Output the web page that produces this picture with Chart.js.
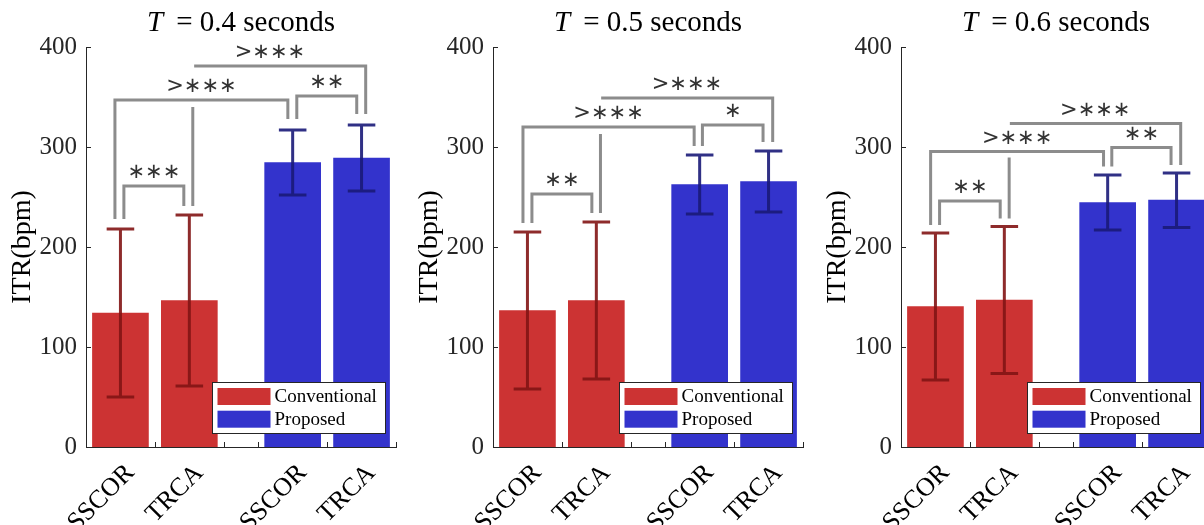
<!DOCTYPE html>
<html>
<head>
<meta charset="utf-8">
<script src="https://cdn.jsdelivr.net/npm/chart.js@4.4.1/dist/chart.umd.min.js"></script>
<style>
    html, body { margin: 0; padding: 0; background: #fff; }
    body { width: 1204px; height: 525px; overflow: hidden; position: relative; }
    .panel { position: absolute; top: 0; width: 408px; height: 525px; }
</style>
</head>
<body>
<div class="panel" style="left:0px"><canvas id="chart04" width="408" height="525"></canvas></div>
<div class="panel" style="left:407px"><canvas id="chart05" width="408" height="525"></canvas></div>
<div class="panel" style="left:815px"><canvas id="chart06" width="408" height="525"></canvas></div>
<script>
// Categories and bar positions on the x axis
const methods = ['SSCOR', 'TRCA'];
const convPositions = [1, 2];
const propPositions = [3.5, 4.5];
const xTickMarks = [1.5, 2.5, 3, 4, 5];
const yTickValues = [0, 100, 200, 300, 400];
const windowLengths = ['0.4', '0.5', '0.6'];

// ITR mean / std (bpm), [SSCOR, TRCA]
const convMean04 = [134, 146.5];
const convStd04 = [84, 85.5];
const propMean04 = [284.5, 289];
const propStd04 = [32.5, 33];

const convMean05 = [136.5, 146.5];
const convStd05 = [78.5, 78.5];
const propMean05 = [262.5, 265.5];
const propStd05 = [29.5, 30.5];

const convMean06 = [140.5, 147];
const convStd06 = [73.5, 73.5];
const propMean06 = [244.5, 246.8];
const propStd06 = [27.5, 27.3];

// Significance brackets: [x1, x2, yTop, yLeftEnd, yRightEnd, label, labelX]
const brackets04 = [
    [1.05, 1.92, 261, 228, 241, '\u2217\u2217\u2217'],
    [0.92, 3.43, 347, 228, 328, '>\u2217\u2217\u2217'],
    [2.07, 4.56, 381, null, 333, '>\u2217\u2217\u2217', 3.17],
    [3.56, 4.43, 351, 328, 333, '\u2217\u2217']
];
const stems04 = [[2.05, 241, 340]];

const brackets05 = [
    [1.065, 1.935, 253, 224, 234, '\u2217\u2217'],
    [0.935, 3.42, 320, 224, 301, '>\u2217\u2217\u2217'],
    [2.07, 4.56, 349, null, 305, '>\u2217\u2217\u2217'],
    [3.54, 4.42, 322, 301, 305, '\u2217']
];
const stems05 = [[2.06, 234, 313]];

const brackets06 = [
    [1.06, 1.94, 246, 222, 228.5, '\u2217\u2217'],
    [0.93, 3.44, 295.5, 222, 280.5, '>\u2217\u2217\u2217'],
    [2.08, 4.56, 323.5, null, 282, '>\u2217\u2217\u2217'],
    [3.56, 4.42, 299.5, 280.5, 282, '\u2217\u2217']
];
const stems06 = [[2.07, 228.5, 289.5]];

const SERIF = '"Liberation Serif", "Times New Roman", serif';
const AXIS_COLOR = '#262626';

// Error bars, brackets, inward ticks, legend box and title
const annotatePlugin = {
    id: 'annotate',
    afterDatasetsDraw(chart, args, opts) {
        const { ctx, chartArea } = chart;
        const x = chart.scales.x, y = chart.scales.y;

        // error bars
        chart.data.datasets.forEach((ds, di) => {
            const meta = chart.getDatasetMeta(di);
            ctx.save();
            ctx.strokeStyle = ds.errorColor;
            ctx.lineWidth = 3;
            meta.data.forEach((bar, i) => {
                const pt = ds.data[i];
                const s = ds.errors[i];
                const px = x.getPixelForValue(pt.x);
                const half = x.getPixelForValue(pt.x + 0.2) - px;
                const yt = y.getPixelForValue(pt.y + s);
                const yb = y.getPixelForValue(pt.y - s);
                ctx.beginPath();
                ctx.moveTo(px, yt); ctx.lineTo(px, yb);
                ctx.moveTo(px - half, yt); ctx.lineTo(px + half, yt);
                ctx.moveTo(px - half, yb); ctx.lineTo(px + half, yb);
                ctx.stroke();
            });
            ctx.restore();
        });

        // significance brackets
        ctx.save();
        ctx.strokeStyle = '#8c8c8c';
        ctx.lineWidth = 3;
        ctx.lineJoin = 'miter';
        opts.brackets.forEach(([x1, x2, yy, yl, yr]) => {
            const X1 = x.getPixelForValue(x1), X2 = x.getPixelForValue(x2);
            const Y = y.getPixelForValue(yy);
            ctx.beginPath();
            if (yl !== null) {
                ctx.moveTo(X1, y.getPixelForValue(yl));
                ctx.lineTo(X1, Y);
            } else {
                ctx.moveTo(X1, Y);
            }
            ctx.lineTo(X2, Y);
            ctx.lineTo(X2, y.getPixelForValue(yr));
            ctx.stroke();
        });
        opts.stems.forEach(([sx, y0, y1]) => {
            const X = x.getPixelForValue(sx);
            ctx.beginPath();
            ctx.moveTo(X, y.getPixelForValue(y0));
            ctx.lineTo(X, y.getPixelForValue(y1));
            ctx.stroke();
        });
        ctx.fillStyle = '#333333';
        ctx.font = '21px "DejaVu Sans", sans-serif';
        ctx.textAlign = 'center';
        ctx.textBaseline = 'middle';
        opts.brackets.forEach(([x1, x2, yy, yl, yr, label, lx]) => {
            const cx = x.getPixelForValue(lx !== undefined ? lx : (x1 + x2) / 2);
            ctx.fillText(label, cx, y.getPixelForValue(yy) - 13);
        });
        ctx.restore();

        // inward tick marks
        ctx.save();
        ctx.strokeStyle = AXIS_COLOR;
        ctx.lineWidth = 1;
        ctx.beginPath();
        yTickValues.forEach(v => {
            const Y = Math.round(y.getPixelForValue(v)) + 0.5;
            ctx.moveTo(chartArea.left, Y);
            ctx.lineTo(chartArea.left + 5, Y);
        });
        xTickMarks.forEach(v => {
            const X = Math.round(x.getPixelForValue(v)) + 0.5;
            ctx.moveTo(X, chartArea.bottom);
            ctx.lineTo(X, chartArea.bottom - 5);
        });
        ctx.stroke();
        ctx.restore();
    },
    afterDraw(chart, args, opts) {
        const { ctx, chartArea } = chart;

        // legend box inside the plot area
        const w = 173, h = 51;
        const bx = Math.round(chartArea.right - 11 - w) + 0.5;
        const by = Math.round(chartArea.bottom - 14 - h) + 0.5;
        ctx.save();
        ctx.fillStyle = '#ffffff';
        ctx.fillRect(bx, by, w, h);
        ctx.strokeStyle = AXIS_COLOR;
        ctx.lineWidth = 1;
        ctx.strokeRect(bx, by, w, h);
        ctx.font = '19px ' + SERIF;
        ctx.textBaseline = 'middle';
        chart.data.datasets.forEach((ds, i) => {
            const sy = by + 5.5 + i * 22.7;
            ctx.fillStyle = ds.backgroundColor;
            ctx.fillRect(bx + 5, sy, 53, 17);
            ctx.fillStyle = '#000000';
            ctx.fillText(ds.label, bx + 62, sy + 9);
        });
        ctx.restore();

        // title with italic T
        ctx.save();
        ctx.fillStyle = '#000000';
        ctx.textBaseline = 'middle';
        const italic = 'italic 29px ' + SERIF, normal = '29px ' + SERIF;
        const rest = '\u2009 = ' + opts.windowLength + ' seconds';
        ctx.font = italic;
        const wT = ctx.measureText('T').width;
        ctx.font = normal;
        const wR = ctx.measureText(rest).width;
        const cx = (chartArea.left + chartArea.right) / 2;
        const start = cx - (wT + wR) / 2;
        ctx.font = italic;
        ctx.fillText('T', start, 23);
        ctx.font = normal;
        ctx.fillText(rest, start + wT, 23);
        ctx.restore();
    }
};

function buildChart(canvasId, windowLength, convMean, convStd, propMean, propStd, brackets, stems) {
    const ctx = document.getElementById(canvasId);
    const allPositions = convPositions.concat(propPositions);
    return new Chart(ctx, {
        type: 'bar',
        data: {
            datasets: [
                {
                    label: 'Conventional',
                    data: convPositions.map((p, i) => ({ x: p, y: convMean[i] })),
                    errors: convStd,
                    backgroundColor: '#cc3333',
                    errorColor: 'rgba(130, 20, 20, 0.9)',
                    borderWidth: 0,
                    barThickness: 56,
                    grouped: false
                },
                {
                    label: 'Proposed',
                    data: propPositions.map((p, i) => ({ x: p, y: propMean[i] })),
                    errors: propStd,
                    backgroundColor: '#3333cc',
                    errorColor: 'rgba(25, 25, 120, 0.9)',
                    borderWidth: 0,
                    barThickness: 56,
                    grouped: false
                }
            ]
        },
        options: {
            responsive: false,
            animation: false,
            layout: { padding: { top: 47, right: 12, left: 0, bottom: 0 } },
            plugins: {
                legend: { display: false },
                title: { display: false },
                tooltip: { enabled: false },
                annotate: { windowLength: windowLength, brackets: brackets, stems: stems }
            },
            scales: {
                x: {
                    type: 'linear',
                    min: 0.5,
                    max: 5,
                    offset: false,
                    afterBuildTicks: (scale) => {
                        scale.ticks = allPositions.map(v => ({ value: v }));
                    },
                    afterFit: (scale) => { scale.height = 78; },
                    grid: { display: false, drawTicks: false },
                    border: { display: true, color: AXIS_COLOR, width: 1 },
                    ticks: {
                        autoSkip: false,
                        minRotation: 45,
                        maxRotation: 45,
                        padding: 11,
                        labelOffset: 10,
                        color: '#000000',
                        font: { family: SERIF, size: 26 },
                        callback: (v) => {
                            const i = allPositions.indexOf(v);
                            return i >= 0 ? methods[i % methods.length] : '';
                        }
                    }
                },
                y: {
                    min: 0,
                    max: 400,
                    afterFit: (scale) => { scale.width = 86; },
                    grid: { display: false, drawTicks: false },
                    border: { display: true, color: AXIS_COLOR, width: 1 },
                    ticks: {
                        stepSize: 100,
                        padding: 9,
                        color: AXIS_COLOR,
                        font: { family: SERIF, size: 25 }
                    },
                    title: {
                        display: true,
                        text: 'ITR(bpm)',
                        color: '#000000',
                        padding: { top: 6, bottom: 0 },
                        font: { family: SERIF, size: 28 }
                    }
                }
            }
        },
        plugins: [annotatePlugin]
    });
}

buildChart('chart04', windowLengths[0], convMean04, convStd04, propMean04, propStd04, brackets04, stems04);
buildChart('chart05', windowLengths[1], convMean05, convStd05, propMean05, propStd05, brackets05, stems05);
buildChart('chart06', windowLengths[2], convMean06, convStd06, propMean06, propStd06, brackets06, stems06);
</script>
</body>
</html>
